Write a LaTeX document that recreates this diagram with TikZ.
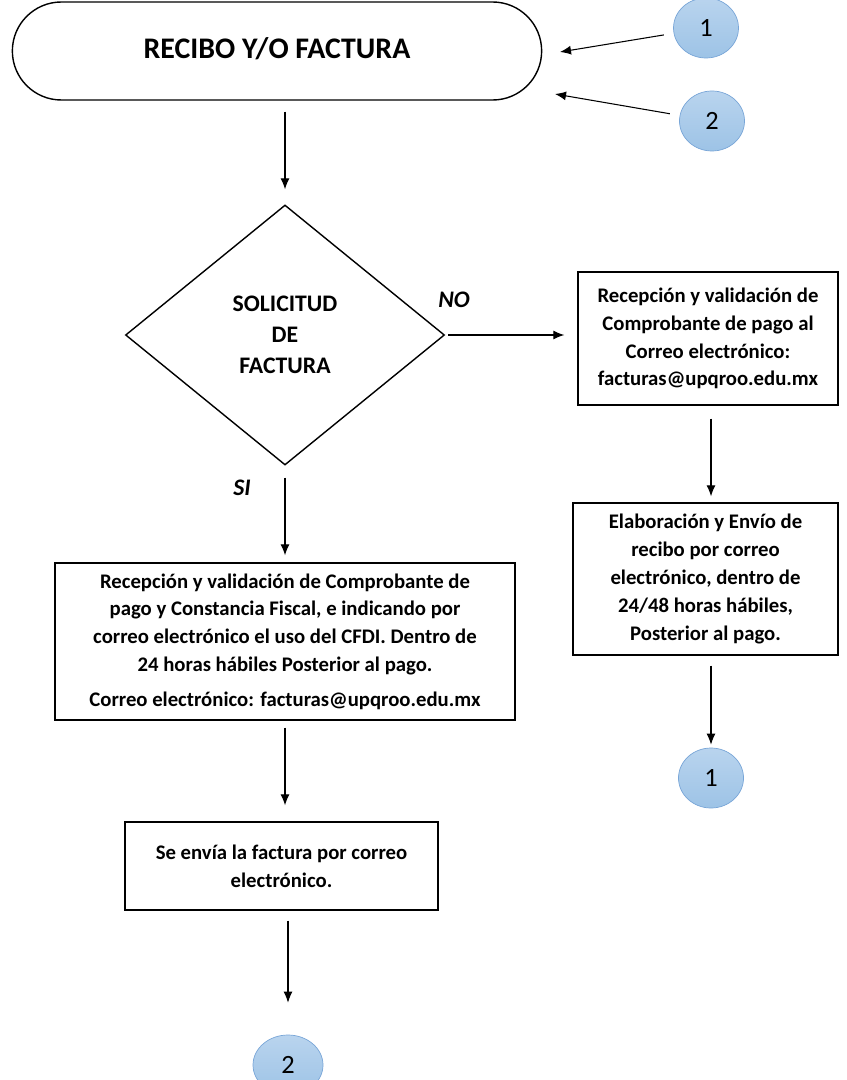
\documentclass[tikz,border=0pt]{standalone}
\usepackage{fontspec}
\setmainfont{Carlito}
\usetikzlibrary{shapes.geometric,shapes.misc,arrows.meta}
\definecolor{azulcirc}{RGB}{157,195,230}
\definecolor{azulclaro}{RGB}{185,212,238}
\definecolor{azulborde}{RGB}{120,165,215}

\begin{document}
\begin{tikzpicture}[
  terminal/.style={draw,thick,rounded rectangle,minimum width=10.82cm,minimum height=1.96cm,
    font=\bfseries\fontsize{17}{20}\selectfont},
  decision/.style={draw,thick,diamond,inner sep=0pt,minimum width=6.38cm,minimum height=5.2cm,
    align=center,font=\bfseries\fontsize{13.5}{17.6}\selectfont},
  proceso/.style={draw,thick,rectangle,align=center,font=\bfseries\fontsize{11.8}{15.8}\selectfont},
  conector/.style={draw=azulborde,ellipse,minimum width=1.3cm,minimum height=1.2cm,
    top color=azulclaro,bottom color=azulcirc,font=\fontsize{15}{17}\selectfont},
  flecha/.style={-{Latex[length=2.2mm,width=1.8mm]},semithick},
  etiqueta/.style={font=\bfseries\itshape\fontsize{13.5}{15}\selectfont}]
\path[use as bounding box,clip] (0,0) rectangle (16.92,-21.6);

\node[terminal] (term) at (5.54,-1.02) {\raisebox{0.1cm}{RECIBO Y/O FACTURA}};
\node[conector] (c1) at (14.12,-0.56) {1};
\node[conector] (c2) at (14.24,-2.42) {2};
\coordinate (t1) at (11.2,-1.04);
\coordinate (t2) at (11.1,-1.88);

\node[decision] (sol) at (5.7,-6.7) {SOLICITUD\\DE\\FACTURA};
\node[etiqueta] (no) at (9.08,-6.0) {NO};
\node[etiqueta] (si) at (4.84,-9.76) {SI};

\node[proceso,minimum width=5.2cm,minimum height=2.66cm] (rec) at (14.16,-6.77)
  {Recepción y validación de\\Comprobante de pago al\\Correo electrónico:\\facturas@upqroo.edu.mx};
\node[proceso,minimum width=5.3cm,minimum height=3.04cm] (elab) at (14.11,-11.58)
  {Elaboración y Envío de\\recibo por correo\\electrónico, dentro de\\24/48 horas hábiles,\\Posterior al pago.};
\node[conector] (end1) at (14.22,-15.56) {1};

\node[proceso,minimum width=9.2cm,minimum height=3.14cm] (val) at (5.7,-12.83)
  {Recepción y validación de Comprobante de\\pago y Constancia Fiscal, e indicando por\\correo electrónico el uso del CFDI. Dentro de\\24 horas hábiles Posterior al pago.\\[4pt]Correo electrónico: facturas@upqroo.edu.mx};
\node[proceso,minimum width=6.26cm,minimum height=1.76cm] (sent) at (5.63,-17.32)
  {Se envía la factura por correo\\electrónico.};
\node[conector,minimum width=1.4cm] (end2) at (5.76,-21.3) {2};

% conectores
\draw[flecha,shorten <=0.2cm] (c1) -- (t1);
\draw[flecha,shorten <=0.2cm] (c2) -- (t2);
\draw[flecha,shorten <=0.22cm,shorten >=0.3cm] (term.south -| sol.north) -- (sol.north);
\draw[flecha,shorten <=0.06cm,shorten >=0.26cm] (sol.east) -- (sol.east -| rec.west);
\draw[flecha,shorten <=0.26cm,shorten >=0.12cm] (rec.south -| end1) -- (elab.north -| end1);
\draw[flecha,shorten <=0.2cm,shorten >=0.06cm] (elab.south -| end1) -- (end1);
\draw[flecha,shorten <=0.24cm,shorten >=0.14cm] (sol.south) -- (val.north);
\draw[flecha,shorten <=0.14cm,shorten >=0.32cm] (val.south) -- (val.south |- sent.north);
\draw[flecha,shorten <=0.2cm,shorten >=0.64cm] (sent.south -| end2) -- (end2);
\end{tikzpicture}
\end{document}
